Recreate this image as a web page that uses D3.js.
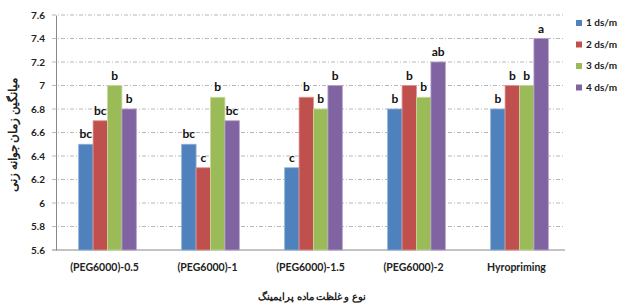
<!DOCTYPE html>
<html>
<head>
<meta charset="utf-8">
<script src="https://cdn.jsdelivr.net/npm/d3@7"></script>
<style>
body { margin: 0; background: #fff; }
#vis { width: 620px; height: 304px; }
text { font-family: Lato, "Open Sans", sans-serif; }
</style>
</head>
<body>
<div id="vis"></div>
<script>
var categories = ['(PEG6000)-0.5', '(PEG6000)-1', '(PEG6000)-1.5', '(PEG6000)-2', 'Hyropriming'];
var series = ['1 ds/m', '2 ds/m', '3 ds/m', '4 ds/m'];
var values1 = [6.5, 6.5, 6.3, 6.8, 6.8];
var values2 = [6.7, 6.3, 6.9, 7.0, 7.0];
var values3 = [7.0, 6.9, 6.8, 6.9, 7.0];
var values4 = [6.8, 6.7, 7.0, 7.2, 7.4];
var letters1 = ['bc', 'bc', 'c', 'b', 'b'];
var letters2 = ['bc', 'c', 'b', 'b', 'b'];
var letters3 = ['b', 'b', 'b', 'b', 'b'];
var letters4 = ['b', 'bc', 'b', 'ab', 'a'];
var yTicks = [5.6, 5.8, 6, 6.2, 6.4, 6.6, 6.8, 7, 7.2, 7.4, 7.6];
var colours = ['#4F81BD', '#C0504D', '#9BBB59', '#8064A2'];
var strokes = ['#8fb0d8', '#dc9594', '#c6da9f', '#b4a2c8'];

var allValues = [values1, values2, values3, values4];
var allLetters = [letters1, letters2, letters3, letters4];

var width = 620, height = 304;
var margin = { top: 15, bottom: 54, left: 56, right: 49 };

var svg = d3.select('#vis')
    .append('svg')
    .attr('width', width)
    .attr('height', height);

var x0 = d3.scaleBand()
    .domain(categories)
    .range([margin.left, width - margin.right])
    .paddingInner(0.44)
    .paddingOuter(0.22);

var x1 = d3.scaleBand()
    .domain(series)
    .range([0, x0.bandwidth()]);

var y = d3.scaleLinear()
    .domain([5.6, 7.6])
    .range([height - margin.bottom, margin.top]);

// gridlines (start a little left of the axis, like tick marks)
svg.append('g')
    .selectAll('line')
    .data(yTicks.slice(1))
    .enter()
    .append('line')
    .attr('x1', margin.left - 4)
    .attr('x2', 565)
    .attr('y1', function(d) { return y(d); })
    .attr('y2', function(d) { return y(d); })
    .attr('stroke', '#b8b8b8')
    .attr('stroke-width', 1)
    .attr('stroke-dasharray', '4,2,1,2');

// y axis
var y_axis = d3.axisLeft(y)
    .tickValues(yTicks)
    .tickSize(0)
    .tickFormat(function(d) { return d3.format('')(+d.toFixed(1)); });

var gy = svg.append('g')
    .attr('transform', 'translate(' + margin.left + ',0)')
    .call(y_axis);
gy.select('.domain').attr('stroke', '#888');
gy.selectAll('.tick text')
    .attr('fill', '#222')
    .attr('font-size', 10)
    .attr('font-weight', 'bold')
    .attr('x', -11);

// x axis line
svg.append('line')
    .attr('x1', margin.left - 4)
    .attr('x2', 565)
    .attr('y1', y(5.6))
    .attr('y2', y(5.6))
    .attr('stroke', '#888');

// bars
series.forEach(function(s, i) {
    var g = svg.append('g');
    g.selectAll('rect')
        .data(allValues[i])
        .enter()
        .append('rect')
        .attr('x', function(d, j) { return x0(categories[j]) + x1(s); })
        .attr('width', x1.bandwidth())
        .attr('y', function(d) { return y(d); })
        .attr('height', function(d) { return y(5.6) - y(d); })
        .attr('fill', colours[i])
        .attr('stroke', strokes[i])
        .attr('stroke-width', 0.8);

    g.selectAll('text')
        .data(allValues[i])
        .enter()
        .append('text')
        .attr('x', function(d, j) { return x0(categories[j]) + x1(s) + x1.bandwidth() / 2; })
        .attr('y', function(d) { return y(d) - 6; })
        .attr('text-anchor', 'middle')
        .attr('font-size', 12)
        .attr('font-weight', 'bold')
        .attr('fill', '#111')
        .text(function(d, j) { return allLetters[i][j]; });
});

// category labels
svg.append('g')
    .selectAll('text')
    .data(categories)
    .enter()
    .append('text')
    .attr('x', function(d) { return x0(d) + x0.bandwidth() / 2 - 3; })
    .attr('y', 271)
    .attr('text-anchor', 'middle')
    .attr('font-size', 10.5)
    .attr('font-weight', 'bold')
    .attr('fill', '#222')
    .text(function(d) { return d; });

// axis titles
svg.append('text')
    .attr('x', 312)
    .attr('y', 300)
    .attr('text-anchor', 'middle')
    .attr('font-size', 9.5)
    .attr('font-weight', 'bold')
    .attr('fill', '#222')
    .attr('font-family', '"Noto Sans", "DejaVu Sans", sans-serif')
    .text('نوع و غلظت ماده پرایمینگ');

svg.append('text')
    .attr('transform', 'translate(17,135) rotate(-90)')
    .attr('text-anchor', 'middle')
    .attr('font-size', 11.5)
    .attr('font-weight', 'bold')
    .attr('fill', '#222')
    .attr('font-family', '"Noto Sans", "DejaVu Sans", sans-serif')
    .text('میانگین زمان جوانه زنی');

// legend
var legend = svg.append('g')
    .selectAll('g')
    .data(series)
    .enter()
    .append('g')
    .attr('transform', function(d, i) { return 'translate(576,' + (20 + i * 21.5) + ')'; });

legend.append('rect')
    .attr('width', 6)
    .attr('height', 6)
    .attr('fill', function(d, i) { return colours[i]; });

legend.append('text')
    .attr('x', 10)
    .attr('y', 6)
    .attr('font-size', 10)
    .attr('font-weight', 'bold')
    .attr('fill', '#222')
    .text(function(d) { return d; });
</script>
</body>
</html>
